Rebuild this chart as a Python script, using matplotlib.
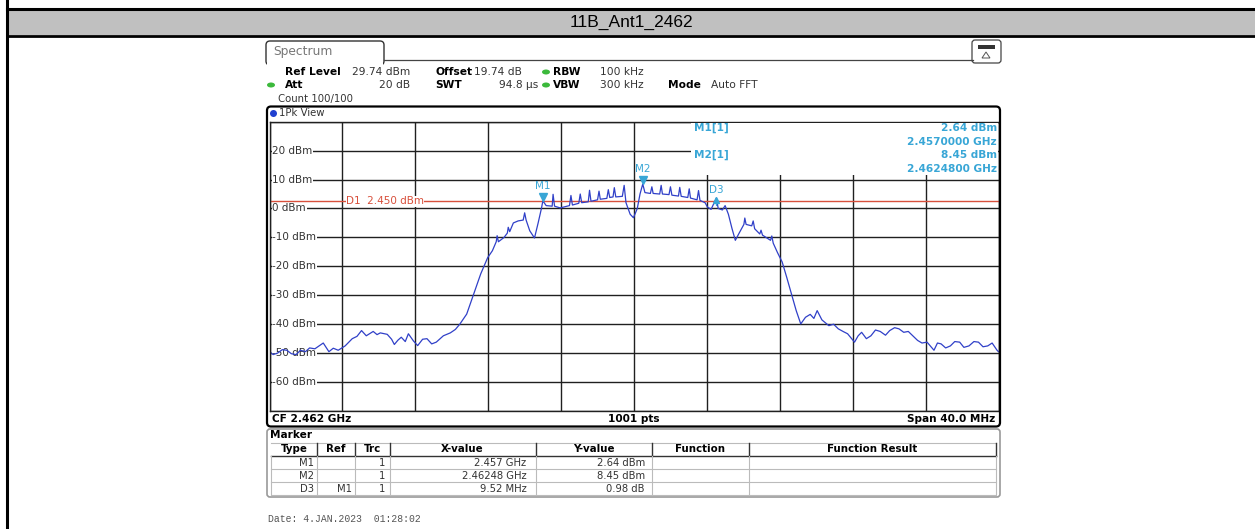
import numpy as np
import matplotlib.pyplot as plt
from matplotlib.patches import Rectangle, FancyBboxPatch, Ellipse, Polygon
from matplotlib import transforms

title = "11B_Ant1_2462"
cf_ghz = 2.462
span_mhz = 40.0
y_top, y_bot = 30, -70
y_labels = [20, 10, 0, -10, -20, -30, -40, -50, -60]
d1_level = 2.45

# trace: offset from CF (MHz), level (dBm)
offset_mhz = [-20.0, -19.8, -19.56, -19.3, -19.05, -18.8, -18.54, -18.3, -18.03, -17.8, -17.51,
              -17.05, -16.74, -16.5, -16.23, -15.85, -15.46, -15.2, -14.95, -14.69, -14.31, -14.1,
              -13.92, -13.54, -13.3, -13.15, -12.95, -12.77, -12.55, -12.38, -12.1, -11.87, -11.6,
              -11.36, -11.1, -10.85, -10.46, -10.08, -9.8, -9.56, -9.18, -8.79, -8.41, -8.03, -7.77,
              -7.56, -7.51, -7.44, -7.13, -6.95, -6.90, -6.82, -6.62, -6.36, -6.08, -6.0, -5.92,
              -5.72, -5.46, -5.26, -5.08, -5.0, -4.82, -4.49, -4.44, -4.36, -4.05, -3.54, -3.46,
              -3.38, -3.03, -2.95, -2.87, -2.51, -2.44, -2.36, -2.0, -1.92, -1.85, -1.49, -1.41,
              -1.33, -1.15, -1.08, -1.0, -0.64, -0.54, -0.44, -0.21, -0.03, 0.18, 0.33, 0.48, 0.6,
              0.9, 0.98, 1.05, 1.41, 1.49, 1.56, 1.92, 2.0, 2.08, 2.44, 2.51, 2.59, 2.95, 3.03,
              3.1, 3.46, 3.54, 3.62, 3.9, 4.03, 4.23, 4.52, 4.62, 4.85, 5.0, 5.18, 5.38, 5.56,
              5.77, 6.03, 6.08, 6.15, 6.46, 6.54, 6.62, 6.9, 6.97, 7.05, 7.49, 7.56, 7.64, 7.87,
              8.13, 8.38, 8.64, 8.9, 9.15, 9.41, 9.67, 9.87, 10.05, 10.31, 10.69, 10.95, 11.21,
              11.5, 11.72, 12.1, 12.3, 12.49, 12.75, 13.0, 13.25, 13.51, 13.8, 14.03, 14.3, 14.54,
              14.8, 15.05, 15.3, 15.56, 15.8, 16.08, 16.46, 16.65, 16.85, 17.1, 17.36, 17.6, 17.87,
              18.1, 18.38, 18.65, 18.9, 19.15, 19.41, 19.65, 19.92, 20.0]
level_dbm = [-49.5, -50.5, -50.0, -48.8, -49.0, -50.2, -50.5, -49.0, -49.5, -48.2, -48.5,
             -46.5, -49.5, -48.3, -49.0, -47.5, -45.0, -44.2, -42.2, -44.0, -42.5, -43.6,
             -43.0, -43.5, -45.2, -47.0, -45.5, -44.5, -46.0, -43.3, -45.8, -47.4, -45.2,
             -45.0, -46.8, -46.2, -44.0, -43.0, -41.8, -40.0, -36.5, -29.5, -22.6, -17.0, -14.6,
             -11.5, -9.4, -11.5, -10.0, -8.5, -6.5, -8.0, -5.0, -4.3, -4.0, -1.5, -4.0,
             -7.7, -10.2, -5.0, 0.0, 2.64, 1.0, 0.8, 4.9, 0.8, 0.2, 1.0, 4.5,
             1.2, 1.8, 5.0, 2.0, 2.3, 6.3, 2.5, 3.0, 6.0, 3.2, 3.5, 6.5,
             3.8, 4.0, 7.2, 4.0, 4.2, 8.0, 2.0, -2.0, -3.2, 0.0, 5.0, 8.45, 5.5,
             5.2, 7.5, 5.2, 5.0, 8.0, 5.0, 4.8, 7.5, 4.6, 4.3, 7.3, 4.2, 3.8, 6.8,
             3.6, 3.0, 6.2, 2.8, 2.0, 0.5, -0.3, 3.62, 0.0, -0.5, 1.0, -2.0, -7.0, -11.0,
             -8.5, -5.5, -3.3, -5.5, -6.0, -4.3, -7.0, -8.8, -7.5, -9.2, -11.0, -9.5, -12.0, -15.2,
             -18.5, -23.8, -29.5, -35.3, -39.9, -37.6, -36.6, -38.0, -35.3, -38.5, -40.5, -40.0, -41.6,
             -42.6, -43.3, -46.2, -44.0, -42.8, -45.0, -44.0, -42.0, -42.5, -43.8, -42.2, -41.2, -41.6,
             -42.8, -42.5, -44.0, -45.6, -46.5, -46.2, -49.0, -46.5, -46.8, -48.2, -47.5, -46.0, -46.2,
             -48.0, -47.5, -46.0, -46.2, -47.8, -47.5, -46.5, -49.0, -49.5]

m1 = (2.457, 2.64)
m2 = (2.46248, 8.45)
d3_delta = (9.52, 0.98)  # MHz, dB relative to M1

mk_type = ["M1", "M2", "D3"]
mk_ref = ["", "", "M1"]
mk_trc = ["1", "1", "1"]
mk_x = ["2.457 GHz", "2.46248 GHz", "9.52 MHz"]
mk_y = ["2.64 dBm", "8.45 dBm", "0.98 dB"]

W, H = 1255, 529
blue = "#3040c8"
teal = "#38a6d6"
red = "#d8503c"
green = "#3cb93c"


def rect(x0, y0, x1, y1):
    return [x0 / W, 1 - y1 / H, (x1 - x0) / W, (y1 - y0) / H]


fig = plt.figure(figsize=(W / 100, H / 100), dpi=100)
fig.patch.set_facecolor("white")

# ---- spectrum plot area
px0, py0, px1, py1 = 269.5, 121.7, 998.5, 411.0
ax = fig.add_axes(rect(px0, py0, px1, py1))
f0 = cf_ghz - span_mhz / 2000
f1 = cf_ghz + span_mhz / 2000
ax.set_xlim(f0, f1)
ax.set_ylim(y_bot, y_top)
ax.set_xticks(np.linspace(f0, f1, 11))
ax.set_yticks(np.arange(y_bot, y_top + 1, 10))
ax.tick_params(length=0, labelbottom=False, labelleft=False)
ax.set_axisbelow(True)
ax.grid(True, color="#202020", lw=1.0)
for s in ax.spines.values():
    s.set_color("#202020")
    s.set_linewidth(1.0)

lbl_tr = transforms.blended_transform_factory(ax.transAxes, ax.transData)
for v in y_labels:
    ax.text(0.004, v, f"{v} dBm", transform=lbl_tr, ha="left", va="center",
            fontsize=7.5, color="#333333", zorder=1.5,
            bbox=dict(fc="white", ec="none", pad=0.6))

ax.axhline(d1_level, color=red, lw=1.0, zorder=1.6)
ax.text(0.105, d1_level, "D1  2.450 dBm", transform=lbl_tr, ha="left", va="center",
        fontsize=7.5, color=red, zorder=1.7, bbox=dict(fc="white", ec="none", pad=0.2))

freq_ghz = cf_ghz + np.array(offset_mhz) / 1000
ax.plot(freq_ghz, level_dbm, color=blue, lw=0.9, zorder=2)

d3 = (m1[0] + d3_delta[0] / 1000, m1[1] + d3_delta[1])
for (fx, fy), name in [(m1, "M1"), (m2, "M2")]:
    ax.plot(fx, fy + 1.4, marker="v", ms=5.5, color=teal, zorder=3)
    ax.text(fx, fy + 3.4, name, ha="center", va="bottom", fontsize=7.5, color=teal, zorder=3)
ax.plot(d3[0], d3[1] - 0.8, marker="^", ms=4, color=teal, zorder=3)
ax.plot([d3[0], d3[0]], [d3[1] - 2.5, d3[1] - 0.5], color=teal, lw=0.8, zorder=3)
ax.text(d3[0] - 0.0004, d3[1] + 1.2, "D3", ha="left", va="bottom", fontsize=7.5,
        color=teal, zorder=3)

# ---- overlay in pixel coordinates
ov = fig.add_axes([0, 0, 1, 1], zorder=5)
ov.set_xlim(0, W)
ov.set_ylim(H, 0)
ov.axis("off")
ov.patch.set_visible(False)

# outer report frame and title band
ov.add_patch(Rectangle((7, 10), W - 7, 25, fc="#c0c0c0", ec="none"))
ov.plot([7, W], [9, 9], color="black", lw=2.2)
ov.plot([7, W], [36, 36], color="black", lw=2.0)
ov.plot([7, 7], [0, H], color="black", lw=2.2)
ov.text(631, 22.5, title, ha="center", va="center", fontsize=12.5,
        family="Liberation Sans", color="black")

# spectrum tab and icon
ov.add_patch(FancyBboxPatch((266, 41), 118, 24, boxstyle="round,pad=0,rounding_size=4",
                            fc="white", ec="#333333", lw=1.0))
ov.plot([384, 973], [60, 60], color="#444444", lw=0.9)
ov.add_patch(Rectangle((267, 58), 116, 8, fc="white", ec="none"))
ov.text(273, 51, "Spectrum", ha="left", va="center", fontsize=8.8, color="#777777")
ov.add_patch(FancyBboxPatch((972, 40), 29, 23, boxstyle="round,pad=0,rounding_size=3",
                            fc="white", ec="#444444", lw=0.9))
ov.add_patch(Rectangle((978, 45), 17, 4, fc="#333333", ec="none"))
ov.add_patch(Polygon([[982, 58], [990, 58], [986, 52]], closed=True, fc="none",
                     ec="#555555", lw=0.7))

# header settings
fs = 7.7
r1, r2, r3 = 72, 85, 99
ov.text(285, r1, "Ref Level", fontsize=fs, weight="bold", va="center")
ov.text(352, r1, "29.74 dBm", fontsize=fs, va="center", color="#333333")
ov.text(435, r1, "Offset", fontsize=fs, weight="bold", va="center")
ov.text(474, r1, "19.74 dB", fontsize=fs, va="center", color="#333333")
ov.text(553, r1, "RBW", fontsize=fs, weight="bold", va="center")
ov.text(600, r1, "100 kHz", fontsize=fs, va="center", color="#333333")
ov.text(285, r2, "Att", fontsize=fs, weight="bold", va="center")
ov.text(410, r2, "20 dB", fontsize=fs, va="center", ha="right", color="#333333")
ov.text(435, r2, "SWT", fontsize=fs, weight="bold", va="center")
ov.text(538, r2, "94.8 µs", fontsize=fs, va="center", ha="right", color="#333333")
ov.text(553, r2, "VBW", fontsize=fs, weight="bold", va="center")
ov.text(600, r2, "300 kHz", fontsize=fs, va="center", color="#333333")
ov.text(668, r2, "Mode", fontsize=fs, weight="bold", va="center")
ov.text(711, r2, "Auto FFT", fontsize=fs, va="center", color="#333333")
ov.text(278, r3, "Count 100/100", fontsize=7.3, va="center", color="#333333")
for gx, gy in [(546, r1), (271, r2), (546, r2)]:
    ov.add_patch(Ellipse((gx, gy), 8, 5, fc=green, ec="none"))

# plot panel frame
ov.add_patch(FancyBboxPatch((267, 106.5), 733, 320, boxstyle="round,pad=0,rounding_size=4",
                            fc="none", ec="black", lw=1.6))
ov.add_patch(Ellipse((273.5, 113.5), 7, 7, fc="#2040d0", ec="none"))
ov.text(279, 113.5, "1Pk View", fontsize=7.3, va="center", color="#333333")

# marker readout box (covers grid in top-right corner)
ov.add_patch(Rectangle((691, 122.5), 306.5, 52.5, fc="white", ec="none"))
mfs = 7.6
ov.text(694, 128, "M1[1]", fontsize=mfs, weight="bold", color=teal, va="center")
ov.text(997, 128, "2.64 dBm", fontsize=mfs, weight="bold", color=teal, va="center", ha="right")
ov.text(997, 142, "2.4570000 GHz", fontsize=mfs, weight="bold", color=teal, va="center", ha="right")
ov.text(694, 155, "M2[1]", fontsize=mfs, weight="bold", color=teal, va="center")
ov.text(997, 155, "8.45 dBm", fontsize=mfs, weight="bold", color=teal, va="center", ha="right")
ov.text(997, 169, "2.4624800 GHz", fontsize=mfs, weight="bold", color=teal, va="center", ha="right")

# footer row
ov.text(272, 418.5, f"CF {cf_ghz:.3f} GHz", fontsize=7.6, weight="bold", va="center")
ov.text(634, 418.5, "1001 pts", fontsize=7.6, weight="bold", va="center", ha="center")
ov.text(995, 418.5, f"Span {span_mhz:.1f} MHz", fontsize=7.6, weight="bold", va="center", ha="right")

# marker table
ov.add_patch(FancyBboxPatch((267, 429), 733, 68, boxstyle="round,pad=0,rounding_size=3",
                            fc="white", ec="#999999", lw=1.2))
ov.text(270, 435.5, "Marker", fontsize=7.6, weight="bold", va="center")
cols = [271, 316.7, 354.5, 389.5, 535.5, 652, 749, 996]
hy0, hy1 = 443, 456
rows_y = [456, 469, 482, 495]
ov.plot([cols[0], cols[-1]], [hy0, hy0], color="#bbbbbb", lw=0.8)
ov.plot([cols[0], cols[-1]], [hy1, hy1], color="#333333", lw=1.0)
for c in cols[1:]:
    ov.plot([c, c], [hy0, hy1], color="#333333", lw=1.0)
for c in cols:
    ov.plot([c, c], [hy1, rows_y[-1]], color="#bbbbbb", lw=0.8)
for ry in rows_y[1:]:
    ov.plot([cols[0], cols[-1]], [ry, ry], color="#bbbbbb", lw=0.8)
headers = ["Type", "Ref", "Trc", "X-value", "Y-value", "Function", "Function Result"]
for i, hname in enumerate(headers):
    ov.text((cols[i] + cols[i + 1]) / 2, 449.5, hname, fontsize=7.4, weight="bold",
            ha="center", va="center")
tfs = 7.2
for i in range(3):
    ty = (rows_y[i] + rows_y[i + 1]) / 2 + 0.5
    ov.text(cols[1] - 3, ty, mk_type[i], fontsize=tfs, ha="right", va="center", color="#333333")
    ov.text(cols[2] - 3, ty, mk_ref[i], fontsize=tfs, ha="right", va="center", color="#333333")
    ov.text(cols[3] - 4, ty, mk_trc[i], fontsize=tfs, ha="right", va="center", color="#333333")
    ov.text(cols[4] - 9, ty, mk_x[i], fontsize=tfs, ha="right", va="center", color="#333333")
    ov.text(cols[5] - 7, ty, mk_y[i], fontsize=tfs, ha="right", va="center", color="#333333")

ov.text(268, 519, "Date: 4.JAN.2023  01:28:02", fontsize=7.0, family="Liberation Mono",
        color="#555555", va="center")

fig.savefig("out.png", dpi=100)
